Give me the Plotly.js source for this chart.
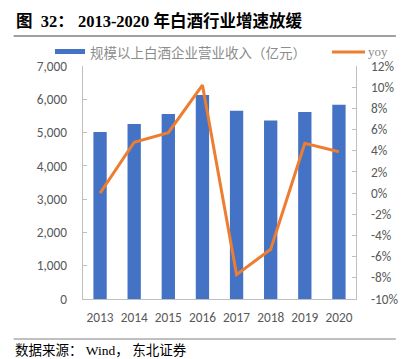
<!DOCTYPE html>
<html><head><meta charset="utf-8">
<script src="https://cdn.plot.ly/plotly-3.0.1.min.js"></script>
<style>body{margin:0;padding:0;background:#fff}#c{width:408px;height:359px}</style>
</head><body><div id="c"></div>
<script>
const years = ['2013','2014','2015','2016','2017','2018','2019','2020'];
const revenue = [5018, 5259, 5559, 6126, 5654, 5364, 5618, 5836];
const yoy = [0.0, 4.8, 5.7, 10.2, -7.7, -5.3, 4.7, 3.9];
const revenueName = '规模以上白酒企业营业收入（亿元）';
const yoyName = 'yoy';
const leftTicks = [0,1000,2000,3000,4000,5000,6000,7000];
const leftTickText = ['0','1,000','2,000','3,000','4,000','5,000','6,000','7,000'];
const rightTicks = [-10,-8,-6,-4,-2,0,2,4,6,8,10,12];
const rightTickText = ['-10%','-8%','-6%','-4%','-2%','0%','2%','4%','6%','8%','10%','12%'];

const grey = '#595959';
const tickFont = {family: 'Calibri, Carlito, "Liberation Sans", "Noto Sans CJK SC", sans-serif', size: 13.3, color: grey};

const data = [
  {type:'bar', x: years, y: revenue, name: revenueName, marker:{color:'#4472C4'}, yaxis:'y'},
  {type:'scatter', mode:'lines', x: years, y: yoy, name: yoyName, line:{color:'#ED7D31', width:3}, yaxis:'y2'}
];
const layout = {
  width:408, height:359,
  margin:{l:83, r:52, t:66, b:60},
  paper_bgcolor:'#fff', plot_bgcolor:'#fff',
  showlegend:false,
  bargap:0.61,
  xaxis:{type:'category', showgrid:false, showline:true, linecolor:'#BFBFBF', linewidth:1.3, ticks:'', tickfont:tickFont, ticklabelstandoff:6},
  yaxis:{range:[0,7000], tickvals:leftTicks, ticktext:leftTickText, showgrid:false, zeroline:false, showline:true, linecolor:'#BFBFBF', linewidth:1.3, ticks:'inside', ticklen:4, tickcolor:'#BFBFBF', tickfont:tickFont, ticklabelstandoff:12},
  yaxis2:{overlaying:'y', side:'right', range:[-10,12], tickvals:rightTicks, ticktext:rightTickText, showgrid:false, zeroline:false, showline:true, linecolor:'#BFBFBF', linewidth:1.3, ticks:'inside', ticklen:4, tickcolor:'#BFBFBF', tickfont:tickFont, ticklabelstandoff:11},
  shapes:[
    {type:'line', xref:'paper', yref:'paper', x0:-0.254, x1:1.146, y0:1.0 + 30/233, y1:1.0 + 30/233, line:{color:'#404040', width:1}},
    {type:'line', xref:'paper', yref:'paper', x0:-0.254, x1:1.146, y0:-40/233, y1:-40/233, line:{color:'#808080', width:1}},
    {type:'rect', xref:'paper', yref:'paper', x0:(55-83)/273, x1:(85-83)/273, y0:(299-54)/233, y1:(299-49)/233, fillcolor:'#4472C4', line:{width:0}},
    {type:'line', xref:'paper', yref:'paper', x0:(332-83)/273, x1:(365-83)/273, y0:(299-52)/233, y1:(299-52)/233, line:{color:'#ED7D31', width:3}}
  ],
  annotations:[
    {xref:'paper', yref:'paper', x:(14-83)/273, y:(299-21)/233, xanchor:'left', yanchor:'middle', showarrow:false,
     text:'<b>图 &#160;32： 2013-2020 年白酒行业增速放缓</b>', font:{family:'"Liberation Serif", "Noto Sans CJK SC", serif', size:16.5, color:'#000'}},
    {xref:'paper', yref:'paper', x:(88-83)/273, y:(299-52)/233, xanchor:'left', yanchor:'middle', showarrow:false,
     text:revenueName, font:{family:'"Noto Sans CJK SC", sans-serif', size:13.5, color:'#8C8C8C'}},
    {xref:'paper', yref:'paper', x:(366-83)/273, y:(299-52)/233, xanchor:'left', yanchor:'middle', showarrow:false,
     text:yoyName, font:{family:'"Liberation Serif", serif', size:13, color:'#8C8C8C'}},
    {xref:'paper', yref:'paper', x:(13-83)/273, y:(299-350)/233, xanchor:'left', yanchor:'middle', showarrow:false,
     text:'数据来源： Wind， 东北证券', font:{family:'"Liberation Serif", "Noto Sans CJK SC", serif', size:13.5, color:'#000'}}
  ]
};
Plotly.newPlot('c', data, layout, {displayModeBar:false, staticPlot:true});
</script></body></html>
